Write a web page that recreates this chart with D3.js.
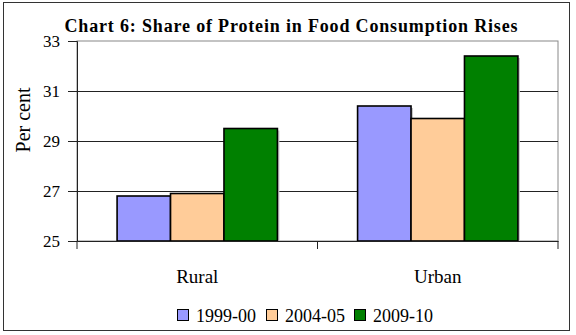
<!DOCTYPE html>
<html>
<head>
<meta charset="utf-8">
<script src="https://cdn.jsdelivr.net/npm/d3@7"></script>
<style>
  body { margin: 0; background: #fff; }
  svg text { font-family: "Liberation Serif", "Times New Roman", serif !important; fill: #000; }
</style>
</head>
<body>
<svg width="576" height="335"></svg>
<script>
// categories, series and tick labels
var categories = ['Rural', 'Urban'];
var seriesNames = ['1999-00', '2004-05', '2009-10'];
var rural = [26.8, 26.9, 29.5];
var urban = [30.4, 29.9, 32.4];
var yTicks = [25, 27, 29, 31, 33];
var colors = ['#9999ff', '#ffcc99', '#008000'];

var values = [rural, urban];
var data = categories.map(function(c, i) {
  return { cat: c, vals: values[i] };
});

// plot area
var margin = { top: 41, right: 18, bottom: 94, left: 77 };
var width = 576 - margin.left - margin.right;
var height = 335 - margin.top - margin.bottom;

var svg = d3.select('svg');

// outer frame
svg.append('rect')
    .attr('x', 3.5)
    .attr('y', 2.5)
    .attr('width', 566)
    .attr('height', 328)
    .attr('fill', '#fff')
    .attr('stroke', '#333')
    .attr('stroke-width', 1);

var xScale = d3.scaleBand()
    .domain(categories)
    .range([0, width]);

var xInner = d3.scaleBand()
    .domain(seriesNames)
    .range([0, xScale.bandwidth()])
    .paddingOuter(0.75);

var yScale = d3.scaleLinear()
    .domain([25, 33])
    .range([height, 0]);

var g = svg.append('g')
    .attr('transform', 'translate(' + margin.left + ',' + margin.top + ')');

// plot box
g.append('rect')
    .attr('width', width)
    .attr('height', height)
    .attr('fill', '#fff')
    .attr('stroke', '#888')
    .attr('stroke-width', 1);

// gridlines
g.append('g')
  .selectAll('line')
  .data(yTicks.slice(1, -1))
  .enter()
  .append('line')
    .attr('x1', 0)
    .attr('x2', width)
    .attr('y1', d => Math.round(yScale(d)) + 0.5)
    .attr('y2', d => Math.round(yScale(d)) + 0.5)
    .attr('stroke', '#222')
    .attr('stroke-width', 1);

// bars
var groups = g.append('g')
  .selectAll('g')
  .data(data)
  .enter()
  .append('g')
    .attr('transform', d => 'translate(' + xScale(d.cat) + ',0)');

// soft shadow to the right of each bar
groups.selectAll('rect.shadow')
  .data(d => d.vals)
  .enter()
  .append('rect')
    .attr('class', 'shadow')
    .attr('x', (d, i) => xInner(seriesNames[i]) + 2)
    .attr('y', d => yScale(d) + 2)
    .attr('width', xInner.bandwidth())
    .attr('height', d => height - yScale(d) - 2)
    .attr('fill', '#c8c8c8');

groups.selectAll('rect.bar')
  .data(d => d.vals)
  .enter()
  .append('rect')
    .attr('class', 'bar')
    .attr('x', (d, i) => xInner(seriesNames[i]))
    .attr('y', d => yScale(d))
    .attr('width', xInner.bandwidth())
    .attr('height', d => height - yScale(d))
    .attr('fill', (d, i) => colors[i])
    .attr('stroke', '#000')
    .attr('stroke-width', 1.6);

// y axis
var yAxis = d3.axisLeft(yScale)
    .tickValues(yTicks)
    .tickSize(9)
    .tickPadding(8)
    .tickFormat(d3.format('d'));

var yG = g.append('g')
    .call(yAxis);
yG.select('.domain')
    .attr('stroke', '#222');
yG.selectAll('line').attr('stroke', '#222');
yG.selectAll('text')
    .style('font-size', '17px')
    .attr('dy', '0.35em');

// x axis with ticks between categories
var xAxis = d3.axisBottom(xScale)
    .tickSize(0)
    .tickPadding(29);

var xG = g.append('g')
    .attr('transform', 'translate(0,' + height + ')')
    .call(xAxis);
xG.select('.domain')
    .attr('stroke', '#222')
    .attr('stroke-width', 1.2);
xG.selectAll('text')
    .style('font-size', '19px')
    .attr('dy', '0.7em');

xG.selectAll('line.sep')
  .data([0, xScale.bandwidth(), width])
  .enter()
  .append('line')
    .attr('class', 'sep')
    .attr('x1', d => d)
    .attr('x2', d => d)
    .attr('y1', 0)
    .attr('y2', 8)
    .attr('stroke', '#222');

// y axis title
svg.append('text')
    .attr('transform', 'translate(30,120) rotate(-90)')
    .attr('text-anchor', 'middle')
    .style('font-size', '20px')
    .text('Per cent');

// chart title
svg.append('text')
    .attr('x', 291)
    .attr('y', 32)
    .attr('text-anchor', 'middle')
    .attr('textLength', 453)
    .attr('lengthAdjust', 'spacing')
    .style('font-size', '18px')
    .style('font-weight', 'bold')
    .text('Chart 6: Share of Protein in Food Consumption Rises');

// legend
var legendX = [177, 266, 354];
var legend = svg.append('g')
  .selectAll('g')
  .data(seriesNames)
  .enter()
  .append('g')
    .attr('transform', (d, i) => 'translate(' + legendX[i] + ',309)');

legend.append('rect')
    .attr('x', 0.5)
    .attr('y', 0.5)
    .attr('width', 11)
    .attr('height', 11)
    .attr('fill', (d, i) => colors[i])
    .attr('stroke', '#000')
    .attr('stroke-width', 1);

legend.append('text')
    .attr('x', 19)
    .attr('y', 13)
    .style('font-size', '18px')
    .text(d => d);
</script>
</body>
</html>
